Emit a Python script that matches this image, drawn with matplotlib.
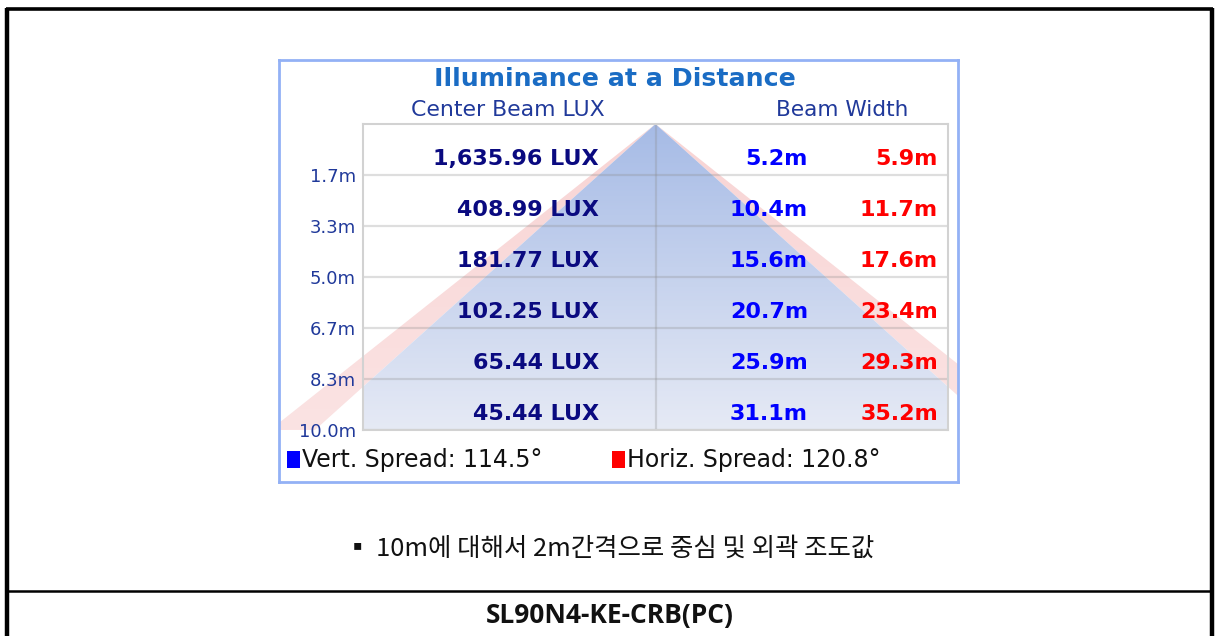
import numpy as np
import matplotlib
matplotlib.use("Agg")
import matplotlib.pyplot as plt
from matplotlib.patches import Polygon, Rectangle
from matplotlib.colors import LinearSegmentedColormap

# ---- data ----
distances = [1.7, 3.3, 5.0, 6.7, 8.3, 10.0]
grid_dist = [10 / 6 * i for i in range(1, 7)]
lux_values = ["1,635.96 LUX", "408.99 LUX", "181.77 LUX",
              "102.25 LUX", "65.44 LUX", "45.44 LUX"]
vert_width = [5.2, 10.4, 15.6, 20.7, 25.9, 31.1]
horiz_width = [5.9, 11.7, 17.6, 23.4, 29.3, 35.2]
vert_spread = 114.5
horiz_spread = 120.8
note_text = "▪ 10m에 대해서 2m간격으로 중심 및 외곽 조도값"
model_name = "SL90N4-KE-CRB(PC)"

W, H = 1216, 636
DPI = 100
fig = plt.figure(figsize=(W / DPI, H / DPI), dpi=DPI)
fig.patch.set_facecolor("white")


def px_rect(x0, y0, x1, y1):
    """pixel box (top-left origin) -> figure fraction rect"""
    return [x0 / W, 1 - y1 / H, (x1 - x0) / W, (y1 - y0) / H]


# geometry of the inner grid (pixels)
GX0, GX1, GY0, GY1 = 363, 948, 124, 430
CX = 655.5
SX = 21.9                      # px per metre, horizontal
SY = (GY1 - GY0) / 10.0        # px per metre, vertical

# ---- outer frame ----
frame = fig.add_axes([0, 0, 1, 1])
frame.set_xlim(0, W)
frame.set_ylim(H, 0)
frame.axis("off")
frame.plot([7, 7], [8, H + 5], color="black", lw=3.2, solid_capstyle="butt")
frame.plot([1212, 1212], [8, H + 5], color="black", lw=3.2,
           solid_capstyle="butt")
frame.plot([6, 1213], [8.5, 8.5], color="black", lw=2.6,
           solid_capstyle="butt")
frame.plot([6, 1213], [591, 591], color="black", lw=1.8,
           solid_capstyle="butt")
frame.text(610, 549, note_text, ha="center", va="center", fontsize=18.3,
           family=["Noto Sans CJK KR", "DejaVu Sans"], color="#111111")
frame.text(610, 616, model_name, ha="center", va="center", fontsize=19,
           fontweight="bold", family=["Open Sans", "DejaVu Sans"],
           color="#111111")

# ---- chart panel with triangles drawn outside the grid ----
PX0, PX1, PY0, PY1 = 279, 958, 60, 482
panel = fig.add_axes(px_rect(PX0, PY0, PX1, PY1))
panel.set_facecolor("white")
for s in panel.spines.values():
    s.set_color("#93b1f5")
    s.set_linewidth(2)
panel.set_xticks([])
panel.set_yticks([])

hw_h = horiz_width[-1] / 2
hw_v = vert_width[-1] / 2
dmax = distances[-1]

red_tri = Polygon([[0, 0], [-hw_h, dmax], [hw_h, dmax]], closed=True,
                  facecolor="none", edgecolor="none")
panel.add_patch(red_tri)
red_cmap = LinearSegmentedColormap.from_list("r", ["#f8d4d4", "#fbe3e3"])
grad = np.linspace(0, 1, 256).reshape(-1, 1)
im = panel.imshow(grad, cmap=red_cmap, aspect="auto",
                  extent=(-hw_h, hw_h, dmax, 0), zorder=1)
im.set_clip_path(red_tri)
panel.add_patch(Polygon([[0, 0], [-hw_v, dmax], [hw_v, dmax]], closed=True,
                        facecolor="white", edgecolor="none", zorder=2))
panel.set_xlim((PX0 - CX) / SX, (PX1 - CX) / SX)
panel.set_ylim((PY1 - GY0) / SY, (PY0 - GY0) / SY)

# ---- grid axes ----
ax = fig.add_axes(px_rect(GX0, GY0, GX1, GY1))
ax.patch.set_alpha(0)

blue_tri = Polygon([[0, 0], [-hw_v, dmax], [hw_v, dmax]], closed=True,
                   facecolor="none", edgecolor="none")
ax.add_patch(blue_tri)
blue_cmap = LinearSegmentedColormap.from_list("b", ["#a6bbe6", "#e6eaf5"])
imb = ax.imshow(grad, cmap=blue_cmap, aspect="auto",
                extent=(-hw_v, hw_v, dmax, 0), zorder=1)
imb.set_clip_path(blue_tri)
ax.set_xlim((GX0 - CX) / SX, (GX1 - CX) / SX)
ax.set_ylim(dmax, 0)

for g in grid_dist:
    ax.axhline(g, color="#8a8a8a", alpha=0.28, lw=1.6, zorder=2)
ax.axvline(0, color="#8a8a8a", alpha=0.28, lw=1.6, zorder=2)
for s in ax.spines.values():
    s.set_color("#d2d2d2")
    s.set_linewidth(1.5)

ax.set_yticks(grid_dist)
ax.set_yticklabels([f"{d:.1f}m" for d in distances], fontsize=13,
                   color="#20399a")
ax.tick_params(axis="y", length=0, pad=5)
ax.set_xticks([])

lux_x = (599 - CX) / SX
v_x = (808 - CX) / SX
h_x = (938 - CX) / SX
for g, lux, vw, hw in zip(grid_dist, lux_values, vert_width, horiz_width):
    yy = g - 0.52
    ax.text(lux_x, yy, lux, ha="right", va="center", fontsize=16,
            fontweight="bold", color="#0a0a80", zorder=3)
    ax.text(v_x, yy, f"{vw:.1f}m", ha="right", va="center", fontsize=16,
            fontweight="bold", color="#0000ff", zorder=3)
    ax.text(h_x, yy, f"{hw:.1f}m", ha="right", va="center", fontsize=16,
            fontweight="bold", color="#ff0000", zorder=3)

# ---- overlay: titles and legend ----
top = fig.add_axes([0, 0, 1, 1], zorder=10)
top.set_xlim(0, W)
top.set_ylim(H, 0)
top.axis("off")
top.patch.set_alpha(0)
top.text(615, 79, "Illuminance at a Distance", ha="center", va="center",
         fontsize=18.2, fontweight="bold", color="#1a6cc4")
top.text(508, 110, "Center Beam LUX", ha="center", va="center",
         fontsize=15.8, color="#20399a")
top.text(842, 110, "Beam Width", ha="center", va="center",
         fontsize=15.6, color="#20399a")

top.add_patch(Rectangle((287, 451), 13, 17, facecolor="#0000ff",
                        edgecolor="none"))
top.text(302, 460, f"Vert. Spread: {vert_spread}°", ha="left",
         va="center", fontsize=17, color="#111111")
top.add_patch(Rectangle((612, 451), 13, 17, facecolor="#ff0000",
                        edgecolor="none"))
top.text(627, 460, f"Horiz. Spread: {horiz_spread}°", ha="left",
         va="center", fontsize=17, color="#111111")

fig.savefig("out.png", dpi=DPI)
